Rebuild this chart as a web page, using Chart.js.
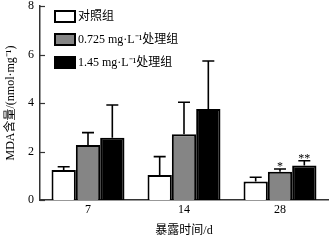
<!DOCTYPE html>
<html><head><meta charset="utf-8">
<script src="https://cdn.jsdelivr.net/npm/chart.js@4/dist/chart.umd.min.js"></script>
<style>html,body{margin:0;padding:0;background:#fff}#wrap{width:332px;height:242px}</style>
</head><body><div id="wrap"><canvas id="c" width="332" height="242"></canvas></div>
<script>
const categories = ['7', '14', '28'];
const seriesLabels = ['对照组', '0.725 mg·L⁻¹处理组', '1.45 mg·L⁻¹处理组'];
const controlMean = [1.24, 1.03, 0.76];
const controlErr  = [0.13, 0.76, 0.18];
const lowMean  = [2.27, 2.71, 1.17];
const lowErr   = [0.51, 1.32, 0.11];
const highMean = [2.57, 3.75, 1.42];
const highErr  = [1.35, 1.98, 0.20];
const marks = [['', '', ''], ['', '', '*'], ['', '', '**']];
const yTicks = [0, 2, 4, 6, 8];

const SERIF = '"Liberation Serif","Noto Sans CJK SC",serif';
const fills = ['#ffffff', '#858585', '#000000'];
const errs = [controlErr, lowErr, highErr];

const customPlugin = {
  id: 'custom',
  afterDatasetsDraw(chart) {
    const ctx = chart.ctx;
    const y = chart.scales.y;
    ctx.save();
    chart.data.datasets.forEach((ds, di) => {
      const meta = chart.getDatasetMeta(di);
      meta.data.forEach((bar, i) => {
        const top = y.getPixelForValue(ds.data[i]);
        const et = y.getPixelForValue(ds.data[i] + errs[di][i]);
        ctx.strokeStyle = '#000';
        ctx.lineWidth = 1.6;
        ctx.beginPath();
        ctx.moveTo(bar.x, top); ctx.lineTo(bar.x, et);
        ctx.moveTo(bar.x - 6, et); ctx.lineTo(bar.x + 6, et);
        ctx.stroke();
        const m = marks[di][i];
        if (m) {
          ctx.fillStyle = '#000';
          ctx.font = '12px ' + SERIF;
          ctx.textAlign = 'center';
          ctx.textBaseline = 'bottom';
          ctx.fillText(m, bar.x, et + 4);
        }
      });
    });
    const x0 = chart.chartArea.left;
    ctx.strokeStyle = '#333'; ctx.lineWidth = 1.2;
    yTicks.forEach(v => {
      const py = Math.round(y.getPixelForValue(v)) + 0.5;
      ctx.beginPath(); ctx.moveTo(x0, py); ctx.lineTo(x0 + 5, py); ctx.stroke();
    });
    chart.data.datasets.forEach((ds, di) => {
      const cy = 16 + di * 23;
      ctx.fillStyle = ds.backgroundColor;
      ctx.fillRect(55, cy - 5, 20, 11);
      ctx.strokeStyle = '#000'; ctx.lineWidth = 2;
      ctx.strokeRect(55, cy - 5, 20, 11);
      ctx.fillStyle = '#000';
      ctx.font = '12px ' + SERIF;
      ctx.textAlign = 'left'; ctx.textBaseline = 'middle';
      ctx.fillText(ds.label, 78, cy + 1);
    });
    ctx.restore();
  }
};

new Chart(document.getElementById('c'), {
  type: 'bar',
  data: {
    labels: categories,
    datasets: [controlMean, lowMean, highMean].map((d, i) => ({
      label: seriesLabels[i], data: d,
      backgroundColor: fills[i], borderColor: '#000', borderWidth: 2,
      barPercentage: 1.0, categoryPercentage: 0.76
    }))
  },
  options: {
    responsive: false, animation: false,
    layout: { padding: { top: 6, right: 4, left: 0, bottom: 0 } },
    plugins: { legend: { display: false }, tooltip: { enabled: false } },
    scales: {
      x: {
        grid: { display: false, drawTicks: false },
        border: { display: true, color: '#333', width: 1.5 },
        ticks: { color: '#000', font: { family: SERIF, size: 12 }, padding: 3 },
        title: { display: true, text: '暴露时间/d', color: '#000', font: { family: SERIF, size: 12 }, padding: { top: 2 } },
        afterFit(s) { s.height = 42; s.paddingLeft = 0; s.paddingRight = 0; }
      },
      y: {
        min: 0, max: 8,
        afterBuildTicks(s) { s.ticks = yTicks.map(v => ({ value: v })); },
        grid: { display: false, drawTicks: false },
        border: { display: true, color: '#333', width: 1.5 },
        ticks: { color: '#000', font: { family: SERIF, size: 12 }, padding: 6 },
        title: { display: true, text: 'MDA含量/(nmol·mg⁻¹)', color: '#000', font: { family: SERIF, size: 12 }, padding: { bottom: 1 } },
        afterFit(s) { s.width = 40; s.paddingTop = 0; s.paddingBottom = 0; }
      }
    }
  },
  plugins: [customPlugin]
});
</script></body></html>
